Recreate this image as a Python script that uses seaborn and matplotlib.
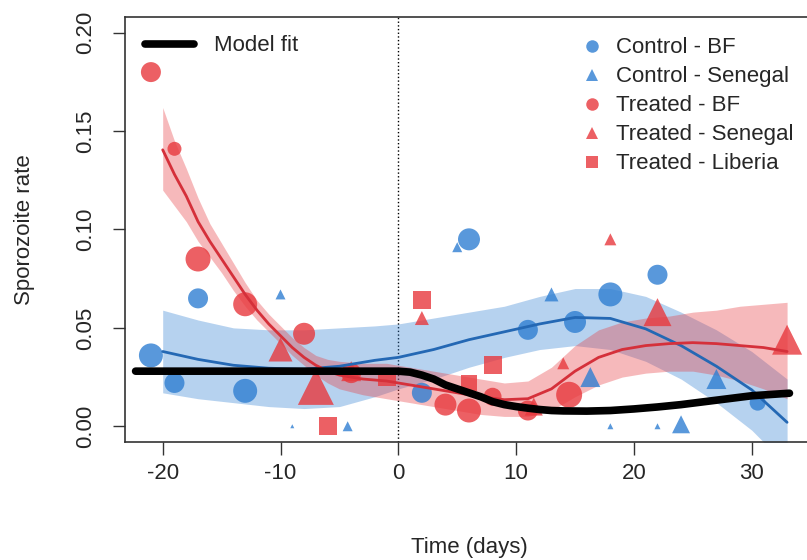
import numpy as np
import pandas as pd
import matplotlib
matplotlib.use('Agg')
import matplotlib.pyplot as plt
from matplotlib.lines import Line2D
import seaborn as sns

sns.set_theme(style='ticks')
plt.rcParams['font.family'] = ['Liberation Sans', 'DejaVu Sans']
plt.rcParams['axes.unicode_minus'] = False

# observed sporozoite rates (day relative to treatment, rate, mosquitoes dissected ~ marker area)
cbf_day = [-21, -19, -17, -13, 2, 6, 11, 15, 18, 22, 30.5]
cbf_rate = [0.036, 0.022, 0.065, 0.018, 0.017, 0.095, 0.049, 0.053, 0.067, 0.077, 0.012]
cbf_n = [144, 100, 100, 144, 100, 121, 100, 121, 144, 100, 64]

csn_day = [-10, -9, -4.3, 5, 13, 16.3, 18, 22, 24, 27]
csn_rate = [0.067, 0.0, 0.0, 0.091, 0.067, 0.025, 0.0, 0.0, 0.001, 0.024]
csn_n = [25, 4, 25, 25, 49, 100, 9, 9, 81, 100]

tbf_day = [-21, -19, -17, -13, -8, -4, 4, 6, 8, 11, 14.5]
tbf_rate = [0.18, 0.141, 0.085, 0.062, 0.047, 0.027, 0.011, 0.008, 0.015, 0.008, 0.016]
tbf_n = [100, 49, 156, 144, 121, 100, 121, 144, 81, 100, 169]

tsn_day = [-10, -7, -4, 2, 11.5, 14, 18, 22, 33]
tsn_rate = [0.039, 0.020, 0.028, 0.055, 0.010, 0.032, 0.095, 0.058, 0.044]
tsn_n = [144, 324, 100, 49, 81, 36, 36, 196, 225]

tlb_day = [-6, -1, 2, 6, 8]
tlb_rate = [0.0, 0.025, 0.064, 0.022, 0.031]
tlb_n = [81, 81, 81, 64, 81]

# smooth fits
ctl_fit_day = [-20, -17, -14, -11, -8, -5, -2, 0, 3, 6, 9, 12, 15, 18, 21, 24, 27, 30, 33]
ctl_fit = [0.038, 0.034, 0.031, 0.0295, 0.029, 0.0305, 0.0335, 0.035, 0.039, 0.044, 0.048,
           0.052, 0.0553, 0.0548, 0.0495, 0.041, 0.0305, 0.0185, 0.002]
ctl_lo = [0.017, 0.014, 0.012, 0.010, 0.009, 0.010, 0.015, 0.019, 0.024, 0.030, 0.035,
          0.039, 0.041, 0.039, 0.033, 0.024, 0.012, -0.002, -0.020]
ctl_hi = [0.059, 0.054, 0.050, 0.049, 0.049, 0.050, 0.051, 0.052, 0.055, 0.058, 0.061,
          0.066, 0.070, 0.070, 0.066, 0.058, 0.049, 0.038, 0.024]

trt_fit_day = [-20, -19, -18, -17, -16, -15, -14, -13, -12, -11, -10, -9, -8, -7, -6, -5,
               -3, -1, 1, 3, 5, 7, 9, 11, 13, 15, 17, 19, 21, 23, 25, 27, 29, 31, 33]
trt_fit = [0.1405, 0.128, 0.117, 0.104, 0.094, 0.085, 0.076, 0.067, 0.059, 0.052, 0.046,
           0.040, 0.035, 0.031, 0.028, 0.026, 0.024, 0.023, 0.021, 0.019, 0.017, 0.015,
           0.0135, 0.014, 0.019, 0.028, 0.035, 0.039, 0.041, 0.042, 0.0425, 0.042, 0.041,
           0.040, 0.038]
trt_lo = [0.120, 0.112, 0.104, 0.094, 0.086, 0.078, 0.069, 0.061, 0.054, 0.048, 0.042,
          0.036, 0.031, 0.026, 0.022, 0.019, 0.016, 0.014, 0.012, 0.010, 0.008, 0.006,
          0.005, 0.005, 0.008, 0.015, 0.021, 0.025, 0.027, 0.028, 0.028, 0.026, 0.023,
          0.019, 0.014]
trt_hi = [0.162, 0.145, 0.131, 0.116, 0.103, 0.093, 0.083, 0.073, 0.064, 0.057, 0.051,
          0.045, 0.040, 0.036, 0.034, 0.033, 0.032, 0.032, 0.030, 0.028, 0.026, 0.024,
          0.022, 0.023, 0.030, 0.041, 0.049, 0.053, 0.055, 0.056, 0.058, 0.059, 0.061,
          0.062, 0.063]

model_day = [-22.3, 0, 1, 2, 3, 4, 5, 6, 7, 8, 9, 10, 11, 12, 13, 14, 16, 18, 20, 22, 24,
             26, 28, 30, 33.2]
model_fit = [0.028, 0.028, 0.0275, 0.026, 0.024, 0.021, 0.019, 0.017, 0.015, 0.0125, 0.011,
             0.010, 0.0092, 0.0085, 0.008, 0.0078, 0.0077, 0.008, 0.0088, 0.0098, 0.011,
             0.0125, 0.014, 0.0155, 0.0168]

groups = ['Control - BF', 'Control - Senegal', 'Treated - BF', 'Treated - Senegal',
          'Treated - Liberia']
blue = '#2f7fd2'
red = '#e8383d'
palette = {'Control - BF': blue, 'Control - Senegal': blue, 'Treated - BF': red,
           'Treated - Senegal': red, 'Treated - Liberia': red}
markers = {'Control - BF': 'o', 'Control - Senegal': '^', 'Treated - BF': 'o',
           'Treated - Senegal': '^', 'Treated - Liberia': 's'}

pts = pd.concat([
    pd.DataFrame({'day': cbf_day, 'rate': cbf_rate, 'n': cbf_n, 'group': groups[0]}),
    pd.DataFrame({'day': csn_day, 'rate': csn_rate, 'n': csn_n, 'group': groups[1]}),
    pd.DataFrame({'day': tbf_day, 'rate': tbf_rate, 'n': tbf_n, 'group': groups[2]}),
    pd.DataFrame({'day': tsn_day, 'rate': tsn_rate, 'n': tsn_n, 'group': groups[3]}),
    pd.DataFrame({'day': tlb_day, 'rate': tlb_rate, 'n': tlb_n, 'group': groups[4]}),
], ignore_index=True)

fig = plt.figure(figsize=(8.07, 5.6), dpi=100)
ax = fig.add_axes([125 / 807, 118 / 560, 688 / 807, 425 / 560])

# confidence bands
ax.fill_between(ctl_fit_day, ctl_lo, ctl_hi, color=blue, alpha=0.35, lw=0, zorder=1)
ax.fill_between(trt_fit_day, trt_lo, trt_hi, color=red, alpha=0.35, lw=0, zorder=1)

sns.scatterplot(data=pts, x='day', y='rate', hue='group', style='group', size='n',
                palette=palette, markers=markers, sizes=(0, 828), size_norm=(0, 400),
                alpha=0.8, linewidth=0, legend=False, ax=ax, zorder=2)

sns.lineplot(x=ctl_fit_day, y=ctl_fit, color='#2468b4', lw=2, ax=ax, zorder=3)
sns.lineplot(x=trt_fit_day, y=trt_fit, color='#d5303a', lw=2, ax=ax, zorder=3)
sns.lineplot(x=model_day, y=model_fit, color='black', lw=5.5, ax=ax, zorder=4)
ax.axvline(0, color='black', ls=':', lw=1, zorder=0)

ax.set_xlim(-23.2, 35.2)
ax.set_ylim(-0.008, 0.208)
ax.set_xticks([-20, -10, 0, 10, 20, 30])
ax.set_yticks([0, 0.05, 0.10, 0.15, 0.20])
ax.set_yticklabels(['0.00', '0.05', '0.10', '0.15', '0.20'], rotation=90, va='center')
ax.tick_params(axis='both', direction='out', length=9, width=1, labelsize=16, color='#333333')
ax.tick_params(axis='x', pad=6)
ax.tick_params(axis='y', pad=12)
for s in ax.spines.values():
    s.set_color('#333333')
    s.set_linewidth(1.2)
ax.set_xlabel('Time (days)', fontsize=16, labelpad=38)
ax.set_ylabel('Sporozoite rate', fontsize=16, labelpad=29)

leg1 = ax.legend(handles=[Line2D([], [], color='black', lw=5.5)], labels=['Model fit'],
                 loc='center left', bbox_to_anchor=(0.029, 0.932), frameon=False,
                 fontsize=16, handlelength=2.2, handletextpad=0.9, borderpad=0,
                 borderaxespad=0)
ax.add_artist(leg1)
handles = [Line2D([], [], ls='', marker=markers[g], color=palette[g], alpha=0.8,
                  markersize=9, markeredgewidth=0) for g in groups]
ax.legend(handles=handles, labels=groups, loc='center left', bbox_to_anchor=(0.663, 0.791),
          frameon=False, fontsize=16, handlelength=1.0, handletextpad=0.55, borderpad=0,
          borderaxespad=0, labelspacing=0.36)

fig.savefig('out.png', dpi=100)
